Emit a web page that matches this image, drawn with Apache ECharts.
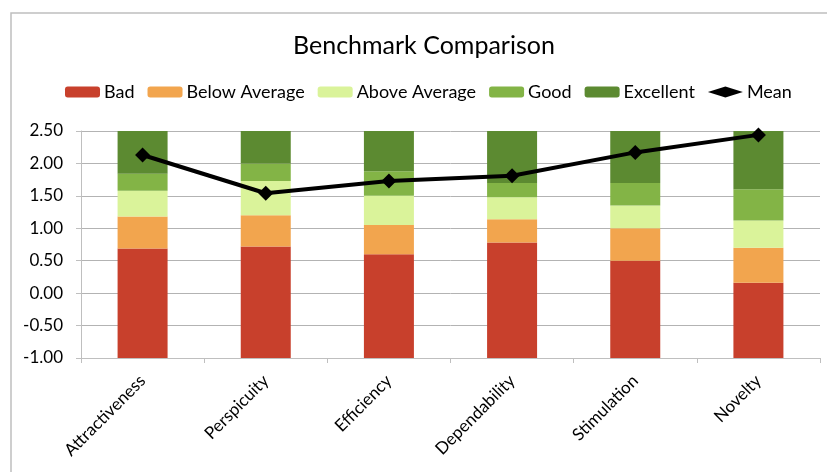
<!DOCTYPE html>
<html>
<head>
<meta charset="utf-8">
<script src="https://cdn.jsdelivr.net/npm/echarts@6/dist/echarts.min.js"></script>
<style>
  html, body { margin: 0; padding: 0; background: #fff; }
  #chart { width: 827px; height: 472px; }
</style>
</head>
<body>
<div id="chart"></div>
<script>
// UEQ scales
const categories = ['Attractiveness', 'Perspicuity', 'Efficiency', 'Dependability', 'Stimulation', 'Novelty'];

// Upper bound of each benchmark band per scale
const badUpper       = [0.69, 0.72, 0.60, 0.78, 0.50, 0.16];
const belowAvgUpper  = [1.18, 1.20, 1.05, 1.14, 1.00, 0.70];
const aboveAvgUpper  = [1.58, 1.73, 1.50, 1.48, 1.35, 1.12];
const goodUpper      = [1.84, 2.00, 1.88, 1.70, 1.70, 1.60];
const excellentUpper = [2.50, 2.50, 2.50, 2.50, 2.50, 2.50];

// Mean score of the evaluated product
const meanValues = [2.13, 1.54, 1.73, 1.81, 2.17, 2.44];

// Value axis range
const axisMin = -1.0;
const axisMax = 2.5;
const axisStep = 0.5;

const bandNames  = ['Bad', 'Below Average', 'Above Average', 'Good', 'Excellent'];
const bandColors = ['#C8402C', '#F2A54E', '#DAF39A', '#83B446', '#5C8A31'];

// Bars start at the bottom of the axis: a transparent base segment carries
// the stack from 0 down to axisMin, then each band adds its own height.
const bounds = [badUpper, belowAvgUpper, aboveAvgUpper, goodUpper, excellentUpper];
const bandHeights = bounds.map((upper, i) =>
  upper.map((u, j) => +(u - (i === 0 ? axisMin : bounds[i - 1][j])).toFixed(2))
);

const FONT = 'Lato, "Open Sans", sans-serif';

const series = [{
  name: 'base',
  type: 'bar',
  stack: 'bench',
  stackStrategy: 'all',
  data: categories.map(() => axisMin),
  itemStyle: { color: 'transparent' },
  barWidth: 50,
  silent: true
}];

bandNames.forEach((name, i) => {
  series.push({
    name: name,
    type: 'bar',
    stack: 'bench',
    stackStrategy: 'all',
    data: bandHeights[i],
    itemStyle: { color: bandColors[i] },
    barWidth: 50
  });
});

series.push({
  name: 'Mean',
  type: 'line',
  data: meanValues,
  symbol: 'diamond',
  symbolSize: 15,
  lineStyle: { color: '#000', width: 4 },
  itemStyle: { color: '#000' },
  z: 5
});

const legendData = bandNames.map(n => ({ name: n })).concat([{
  name: 'Mean',
  icon: 'diamond',
  lineStyle: { color: '#000', width: 6 },
  itemStyle: { color: '#000' }
}]);

const chart = echarts.init(document.getElementById('chart'), null, { renderer: 'canvas' });
chart.setOption({
  animation: false,
  backgroundColor: '#fff',
  textStyle: { fontFamily: FONT },
  title: {
    text: 'Benchmark Comparison',
    left: 288,
    top: 28,
    textStyle: { fontFamily: FONT, fontSize: 25, fontWeight: 'normal', color: '#000' }
  },
  legend: {
    data: legendData,
    top: 78,
    left: 60,
    itemWidth: 35,
    itemHeight: 11,
    itemGap: 13,
    textStyle: { fontFamily: FONT, fontSize: 18, color: '#000', padding: [0, 0, 0, -1] }
  },
  grid: { left: 81, right: 7, top: 131, bottom: 114, containLabel: false },
  xAxis: {
    type: 'category',
    data: categories,
    boundaryGap: true,
    axisLine: { onZero: false, lineStyle: { color: '#bfbfbf', width: 1 } },
    axisTick: { show: true, length: 5, lineStyle: { color: '#bfbfbf' } },
    axisLabel: { rotate: 45, fontSize: 17, color: '#000', margin: 20, fontFamily: FONT, interval: 0 }
  },
  yAxis: {
    type: 'value',
    min: axisMin,
    max: axisMax,
    interval: axisStep,
    axisLine: { show: true, lineStyle: { color: '#bfbfbf', width: 1 } },
    axisTick: { show: true, length: 5, lineStyle: { color: '#bfbfbf' } },
    splitLine: { lineStyle: { color: '#b3b3b3', width: 1 } },
    axisLabel: {
      fontSize: 17, color: '#000', margin: 18, fontFamily: FONT,
      formatter: v => v.toFixed(2)
    }
  },
  graphic: [{
    type: 'rect',
    shape: { x: 11, y: 13, width: 900, height: 600 },
    style: { fill: 'none', stroke: '#bfbfbf', lineWidth: 1.5 },
    silent: true,
    z: -1
  }],
  series: series
});
</script>
</body>
</html>
